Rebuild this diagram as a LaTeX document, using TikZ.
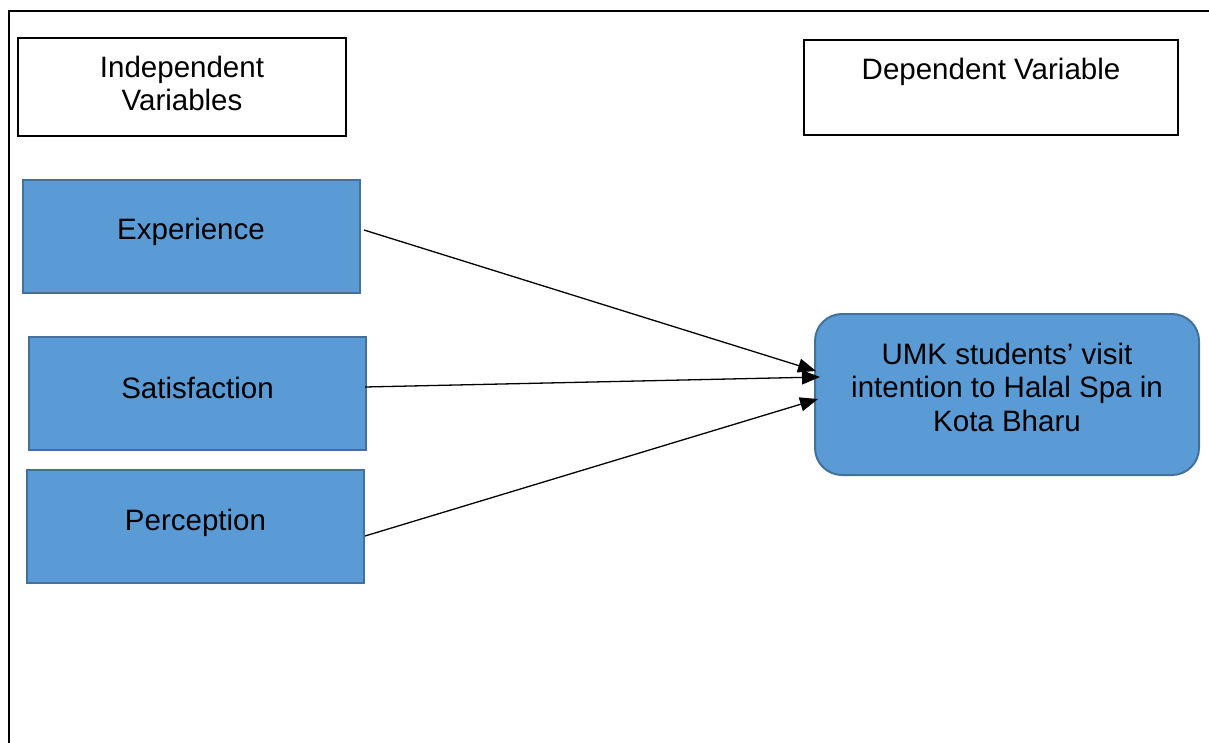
\documentclass[tikz,border=0pt]{standalone}
\usepackage{fontspec}
\setmainfont{Liberation Sans}
\usetikzlibrary{arrows.meta}
\definecolor{boxblue}{HTML}{5B9BD5}
\definecolor{boxedge}{HTML}{41719C}
\begin{document}
\begin{tikzpicture}[x=1pt,y=-1pt,
  headbox/.style={draw=black,line width=1.2pt,fill=white,rectangle,inner sep=0pt},
  varbox/.style={draw=boxedge,line width=2pt,fill=boxblue,rectangle,inner sep=0pt},
  depbox/.style={draw=boxedge,line width=2pt,fill=boxblue,rectangle,rounded corners=27pt,inner sep=0pt},
  label/.style={font=\fontsize{29.5}{33.5}\selectfont,align=center,inner sep=0pt,anchor=base},
  link/.style={line width=1.3pt,-{Triangle[length=18pt,width=14pt]}}]
\useasboundingbox (0,0) rectangle (1209,743);
% outer frame
\draw[line width=2.4pt] (9,743) -- (9,11) -- (1209,11);
% header boxes
\node[headbox,minimum width=328pt,minimum height=98pt] (ivbox) at (182,87) {};
\node[headbox,minimum width=374pt,minimum height=95pt] (dvbox) at (991,87.5) {};
\node[label] (ivtext) at (182,111) {Independent\\Variables};
\node[label] (dvtext) at (991,80) {Dependent Variable};
% variable boxes
\node[varbox,minimum width=337pt,minimum height=113pt] (exp) at (191,236.5) {};
\node[varbox,minimum width=337pt,minimum height=113pt] (sat) at (197.5,393.5) {};
\node[varbox,minimum width=337pt,minimum height=113pt] (per) at (195.5,526) {};
\node[label] (exptext) at (191,240) {Experience};
\node[label] (sattext) at (197.5,398) {Satisfaction};
\node[label] (pertext) at (195.5,530) {Perception};
% dependent box
\node[depbox,minimum width=384pt,minimum height=161pt] (umk) at (1007,394.5) {};
\node[label] (umktext) at (1007,431) {UMK students’ visit\\intention to Halal Spa in\\Kota Bharu};
% connectors
\coordinate (e0) at (364,230);
\coordinate (s0) at (365,387);
\coordinate (p0) at (365,536);
\coordinate (e1) at (816,371);
\coordinate (s1) at (820,377);
\coordinate (p1) at (818,399);
\draw[link] (e0) -- (e1);
\draw[link] (s0) -- (s1);
\draw[link] (p0) -- (p1);
\end{tikzpicture}
\end{document}
